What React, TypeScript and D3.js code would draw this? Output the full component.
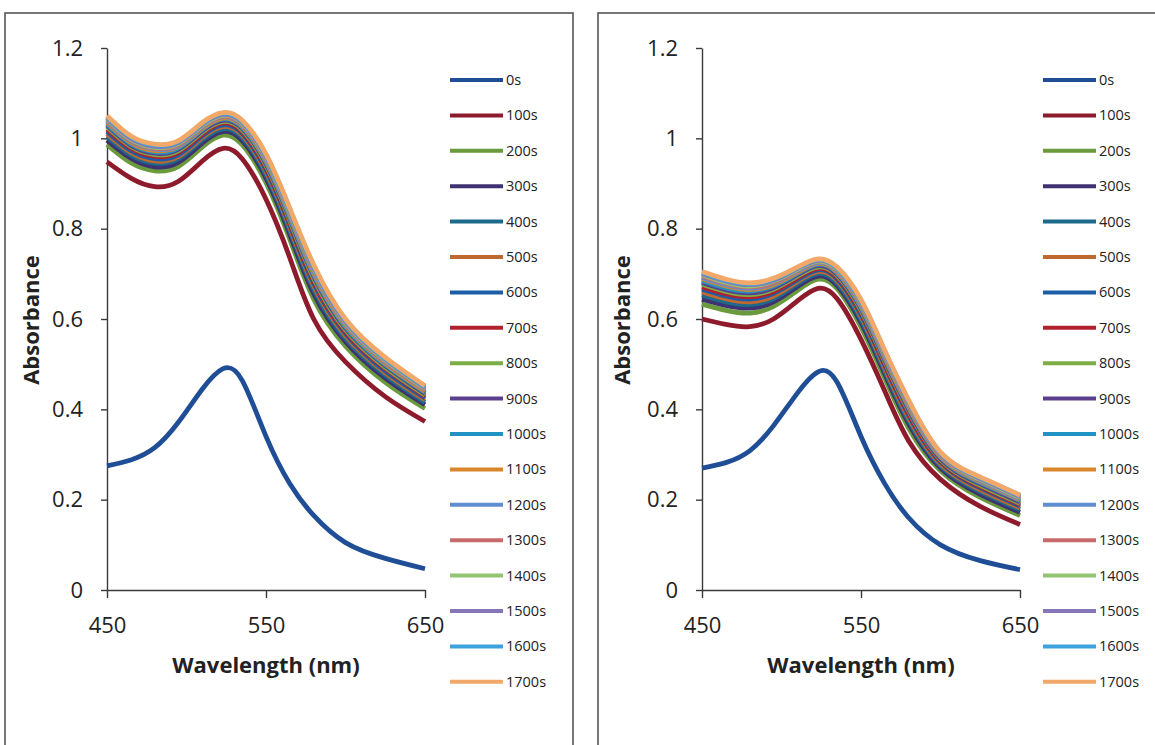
import React, { useEffect, useRef } from "react";
import * as d3 from "d3";

const wavelengths = [450, 465, 480, 495, 510, 523, 535, 550, 565, 580, 600, 625, 650];

const seriesNames = ["0s", "100s", "200s", "300s", "400s", "500s", "600s", "700s", "800s",
  "900s", "1000s", "1100s", "1200s", "1300s", "1400s", "1500s", "1600s", "1700s"];

const seriesColors = ["#1F4E96", "#8E1B2C", "#6A9A3C", "#3E3272", "#1D6A8C", "#C0692E",
  "#1C5DA8", "#B2202F", "#7DAE45", "#5C3E8E", "#1E93C4", "#D9852A", "#5E8ED0", "#C86A6A",
  "#93C472", "#8577B5", "#3EA2DF", "#F1A868"];

const yTicks = [0, 0.2, 0.4, 0.6, 0.8, 1, 1.2];
const xTicks = [450, 550, 650];

// left chart, one row per time
const leftAbsorbance = [
  [0.275, 0.288, 0.315, 0.372, 0.445, 0.490, 0.464, 0.340, 0.235, 0.165, 0.105, 0.070, 0.047],
  [0.948, 0.912, 0.893, 0.905, 0.950, 0.978, 0.955, 0.865, 0.735, 0.600, 0.505, 0.428, 0.373],
  [0.986, 0.946, 0.928, 0.938, 0.981, 1.007, 0.986, 0.902, 0.776, 0.644, 0.540, 0.460, 0.402],
  [0.996, 0.956, 0.937, 0.947, 0.990, 1.015, 0.995, 0.912, 0.787, 0.656, 0.550, 0.469, 0.410],
  [1.004, 0.963, 0.945, 0.955, 0.997, 1.021, 1.002, 0.920, 0.796, 0.666, 0.557, 0.476, 0.416],
  [1.010, 0.969, 0.950, 0.960, 1.002, 1.026, 1.007, 0.926, 0.802, 0.673, 0.563, 0.481, 0.421],
  [1.015, 0.973, 0.955, 0.964, 1.006, 1.030, 1.011, 0.931, 0.808, 0.679, 0.568, 0.485, 0.425],
  [1.020, 0.978, 0.960, 0.969, 1.010, 1.034, 1.015, 0.936, 0.813, 0.685, 0.572, 0.490, 0.429],
  [1.025, 0.982, 0.964, 0.973, 1.014, 1.037, 1.019, 0.940, 0.818, 0.690, 0.576, 0.493, 0.432],
  [1.029, 0.985, 0.967, 0.976, 1.017, 1.040, 1.022, 0.944, 0.822, 0.695, 0.580, 0.497, 0.435],
  [1.032, 0.988, 0.970, 0.979, 1.020, 1.043, 1.025, 0.947, 0.825, 0.698, 0.583, 0.499, 0.438],
  [1.035, 0.991, 0.973, 0.982, 1.022, 1.045, 1.027, 0.950, 0.829, 0.702, 0.586, 0.502, 0.440],
  [1.038, 0.994, 0.976, 0.984, 1.025, 1.048, 1.030, 0.953, 0.832, 0.706, 0.589, 0.505, 0.443],
  [1.040, 0.996, 0.978, 0.986, 1.027, 1.049, 1.032, 0.956, 0.835, 0.709, 0.591, 0.507, 0.444],
  [1.043, 0.998, 0.980, 0.989, 1.029, 1.051, 1.034, 0.958, 0.837, 0.712, 0.593, 0.509, 0.446],
  [1.045, 1.000, 0.982, 0.991, 1.031, 1.053, 1.036, 0.960, 0.840, 0.714, 0.595, 0.511, 0.448],
  [1.047, 1.003, 0.985, 0.993, 1.033, 1.055, 1.038, 0.963, 0.842, 0.717, 0.598, 0.513, 0.450],
  [1.050, 1.005, 0.987, 0.995, 1.035, 1.057, 1.040, 0.965, 0.845, 0.720, 0.600, 0.515, 0.452],
];

// right chart, one row per time
const rightAbsorbance = [
  [0.270, 0.282, 0.308, 0.364, 0.436, 0.483, 0.460, 0.340, 0.235, 0.160, 0.100, 0.065, 0.045],
  [0.600, 0.588, 0.583, 0.600, 0.640, 0.668, 0.645, 0.555, 0.440, 0.330, 0.245, 0.185, 0.145],
  [0.633, 0.619, 0.613, 0.628, 0.663, 0.688, 0.667, 0.582, 0.468, 0.358, 0.264, 0.205, 0.165],
  [0.644, 0.630, 0.624, 0.638, 0.672, 0.695, 0.674, 0.592, 0.478, 0.368, 0.270, 0.212, 0.172],
  [0.653, 0.638, 0.632, 0.645, 0.678, 0.701, 0.680, 0.599, 0.485, 0.375, 0.275, 0.218, 0.178],
  [0.660, 0.645, 0.638, 0.651, 0.683, 0.705, 0.685, 0.605, 0.491, 0.381, 0.279, 0.222, 0.182],
  [0.666, 0.651, 0.644, 0.657, 0.687, 0.709, 0.689, 0.610, 0.497, 0.387, 0.283, 0.226, 0.186],
  [0.671, 0.656, 0.649, 0.661, 0.691, 0.712, 0.693, 0.615, 0.501, 0.391, 0.286, 0.229, 0.189],
  [0.677, 0.661, 0.654, 0.666, 0.695, 0.715, 0.696, 0.619, 0.506, 0.396, 0.289, 0.232, 0.192],
  [0.681, 0.665, 0.658, 0.669, 0.698, 0.718, 0.699, 0.623, 0.509, 0.399, 0.291, 0.235, 0.195],
  [0.685, 0.669, 0.662, 0.673, 0.701, 0.721, 0.702, 0.626, 0.513, 0.403, 0.294, 0.238, 0.198],
  [0.689, 0.673, 0.665, 0.676, 0.703, 0.723, 0.704, 0.629, 0.516, 0.406, 0.296, 0.240, 0.200],
  [0.692, 0.676, 0.668, 0.679, 0.706, 0.725, 0.706, 0.632, 0.519, 0.409, 0.298, 0.242, 0.202],
  [0.695, 0.679, 0.671, 0.681, 0.708, 0.727, 0.708, 0.635, 0.521, 0.411, 0.299, 0.244, 0.204],
  [0.698, 0.681, 0.673, 0.684, 0.710, 0.728, 0.710, 0.637, 0.524, 0.414, 0.301, 0.245, 0.205],
  [0.700, 0.684, 0.676, 0.686, 0.712, 0.730, 0.712, 0.639, 0.526, 0.416, 0.302, 0.247, 0.207],
  [0.703, 0.686, 0.678, 0.688, 0.713, 0.732, 0.713, 0.641, 0.528, 0.418, 0.304, 0.249, 0.209],
  [0.705, 0.688, 0.680, 0.690, 0.715, 0.733, 0.715, 0.643, 0.530, 0.420, 0.305, 0.250, 0.210],
];

const FONT = "'Open Sans', 'DejaVu Sans', sans-serif";
const AXIS_COLOR = "#3a3a3a";

function drawPanel(svg, opts) {
  const { frameX, frameW, plotLeft, titleX, legendX, data } = opts;
  const plotTop = 48, plotBottom = 590, plotW = 318;

  const x = d3.scaleLinear().domain([450, 650]).range([plotLeft, plotLeft + plotW]);
  const y = d3.scaleLinear().domain([0, 1.2]).range([plotBottom, plotTop]);

  const g = svg.append("g");

  // chart frame
  g.append("rect")
    .attr("x", frameX).attr("y", 13)
    .attr("width", frameW).attr("height", 780)
    .attr("fill", "none").attr("stroke", "#555").attr("stroke-width", 1.6);

  // y axis
  const yAxis = g.append("g")
    .attr("transform", `translate(${plotLeft},0)`)
    .call(d3.axisLeft(y).tickValues(yTicks).tickSize(6).tickSizeOuter(0).tickPadding(18)
      .tickFormat(d => String(d)));

  // x axis
  const xAxis = g.append("g")
    .attr("transform", `translate(0,${plotBottom})`)
    .call(d3.axisBottom(x).tickValues(xTicks).tickSize(8).tickSizeOuter(0).tickPadding(19)
      .tickFormat(d => String(d)));

  [yAxis, xAxis].forEach(ax => {
    ax.select(".domain").attr("stroke", AXIS_COLOR).attr("stroke-width", 1.4);
    ax.selectAll(".tick line").attr("stroke", AXIS_COLOR).attr("stroke-width", 1.4);
    ax.selectAll(".tick text")
      .attr("font-family", FONT).attr("font-size", 22).attr("fill", "#222");
  });

  // axis titles
  g.append("text")
    .attr("transform", `translate(${titleX},320) rotate(-90)`)
    .attr("text-anchor", "middle").attr("dy", "0.35em")
    .attr("font-family", FONT).attr("font-weight", "bold").attr("font-size", 22)
    .attr("fill", "#222")
    .text("Absorbance");

  g.append("text")
    .attr("x", plotLeft + plotW / 2).attr("y", 673)
    .attr("text-anchor", "middle")
    .attr("font-family", FONT).attr("font-weight", "bold").attr("font-size", 22)
    .attr("fill", "#222")
    .text("Wavelength (nm)");

  // spectra
  const line = d3.line()
    .x((d, i) => x(wavelengths[i]))
    .y(d => y(d))
    .curve(d3.curveNatural);

  g.append("g").selectAll("path")
    .data(data)
    .join("path")
    .attr("d", d => line(d))
    .attr("fill", "none")
    .attr("stroke", (d, i) => seriesColors[i])
    .attr("stroke-width", 4.8)
    .attr("stroke-linejoin", "round");

  // legend
  const legend = g.append("g").selectAll("g")
    .data(seriesNames)
    .join("g")
    .attr("transform", (d, i) => `translate(${legendX},${80 + i * 35.4})`);

  legend.append("line")
    .attr("x1", 0).attr("x2", 53)
    .attr("stroke", (d, i) => seriesColors[i])
    .attr("stroke-width", 4);

  legend.append("text")
    .attr("x", 56).attr("dy", "0.35em")
    .attr("font-family", FONT).attr("font-size", 14.5).attr("fill", "#222")
    .text(d => d);
}

export default function App() {
  const ref = useRef(null);

  useEffect(() => {
    const svg = d3.select(ref.current);
    svg.selectAll("*").remove();

    svg.append("rect").attr("width", 1155).attr("height", 745).attr("fill", "#fff");

    drawPanel(svg, { frameX: 5, frameW: 568, plotLeft: 107, titleX: 31, legendX: 450, data: leftAbsorbance });
    drawPanel(svg, { frameX: 598, frameW: 600, plotLeft: 702, titleX: 622, legendX: 1043, data: rightAbsorbance });
  }, []);

  return (
    <svg ref={ref} width={1155} height={745}
      style={{ position: "absolute", left: 0, top: 0, display: "block" }} />
  );
}
